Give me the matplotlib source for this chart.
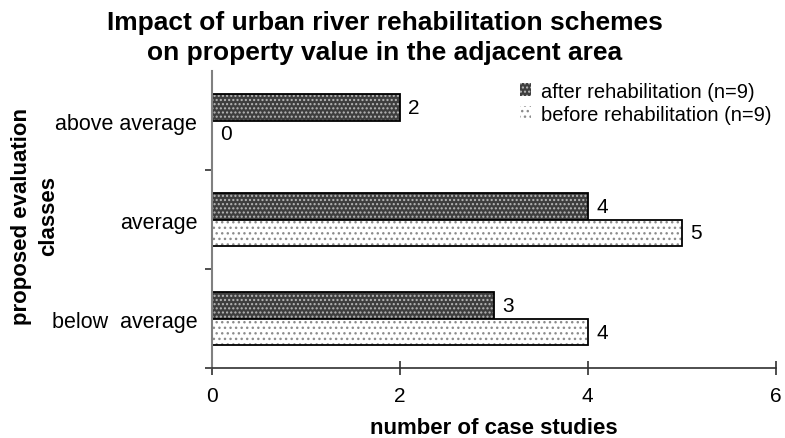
import matplotlib
matplotlib.use("Agg")
from matplotlib import pyplot as plt
from matplotlib.patches import Patch
import numpy as np

plt.rcParams["font.family"] = ["Liberation Sans", "DejaVu Sans"]

categories = ["below  average", "average", "above average"]
after_vals = [3, 4, 2]
before_vals = [4, 5, 0]
after_label = "after rehabilitation (n=9)"
before_label = "before rehabilitation (n=9)"
x_ticks = [0, 2, 4, 6]

DARK, DARK_DOTS, LIGHT_DOTS = "#3e3e3e", "#b8b8b8", "#8c8c8c"

fig = plt.figure(figsize=(7.85, 4.39), dpi=100)
ax = fig.add_axes([0.270, 0.159, 0.718, 0.677])

y = np.arange(len(categories))
h = 0.27


def hatched_bars(ypos, vals, face, dots, hatch):
    # fill + dot pattern first, then a clean black outline on top
    ax.barh(ypos, vals, height=h, color=face, edgecolor=dots, hatch=hatch,
            linewidth=0)
    ax.barh(ypos, vals, height=h, fill=False, edgecolor="black", linewidth=1.3)


hatched_bars(y + h / 2, after_vals, DARK, DARK_DOTS, "....")
hatched_bars(y - h / 2, before_vals, "white", LIGHT_DOTS, "...")

for yi, v in zip(y + h / 2, after_vals):
    ax.text(v + 0.09, yi, str(v), va="center", ha="left", fontsize=15)
for yi, v in zip(y - h / 2, before_vals):
    ax.text(v + 0.09, yi, str(v), va="center", ha="left", fontsize=15)

ax.set_xlim(0, 6)
ax.set_ylim(-0.5, 2.5)
ax.set_xticks(x_ticks)
ax.set_xticklabels([str(t) for t in x_ticks], fontsize=15)
ax.set_yticks(y)
ax.set_yticklabels(categories, fontsize=15.5)
ax.set_yticks([-0.5, 0.5, 1.5], minor=True)
ax.tick_params(axis="y", which="major", length=0, pad=10.5)
ax.tick_params(axis="y", which="minor", length=5, width=1.2, direction="out",
               color="#303030")
ax.tick_params(axis="x", length=10, width=1.2, direction="inout",
               color="#303030", pad=8)

for side in ["top", "right"]:
    ax.spines[side].set_visible(False)
ax.spines["left"].set_color("#808080")
ax.spines["left"].set_linewidth(1.5)
ax.spines["bottom"].set_color("#303030")
ax.spines["bottom"].set_linewidth(1.2)

ax.set_xlabel("number of case studies", fontsize=16, fontweight="bold",
              va="center")
ax.xaxis.set_label_coords(0.5, -0.2)
ax.set_ylabel("proposed evaluation\nclasses", fontsize=16, fontweight="bold",
              linespacing=1.35, va="center")
ax.yaxis.set_label_coords(-0.314, 0.515)

fig.suptitle("Impact of urban river rehabilitation schemes\n"
             "on property value in the adjacent area",
             x=0.49, y=0.975, fontsize=19, fontweight="bold", linespacing=1.32)

handles = [
    Patch(facecolor=DARK, edgecolor=DARK_DOTS, hatch="....", linewidth=0),
    Patch(facecolor="white", edgecolor=LIGHT_DOTS, hatch="...", linewidth=0),
]
ax.legend(handles, [after_label, before_label], loc="upper right",
          bbox_to_anchor=(1.015, 1.005), frameon=False, fontsize=14.5,
          handlelength=0.55, handleheight=0.55, handletextpad=0.5,
          labelspacing=0.2, borderaxespad=0.2)

plt.savefig("out.png", dpi=100)
